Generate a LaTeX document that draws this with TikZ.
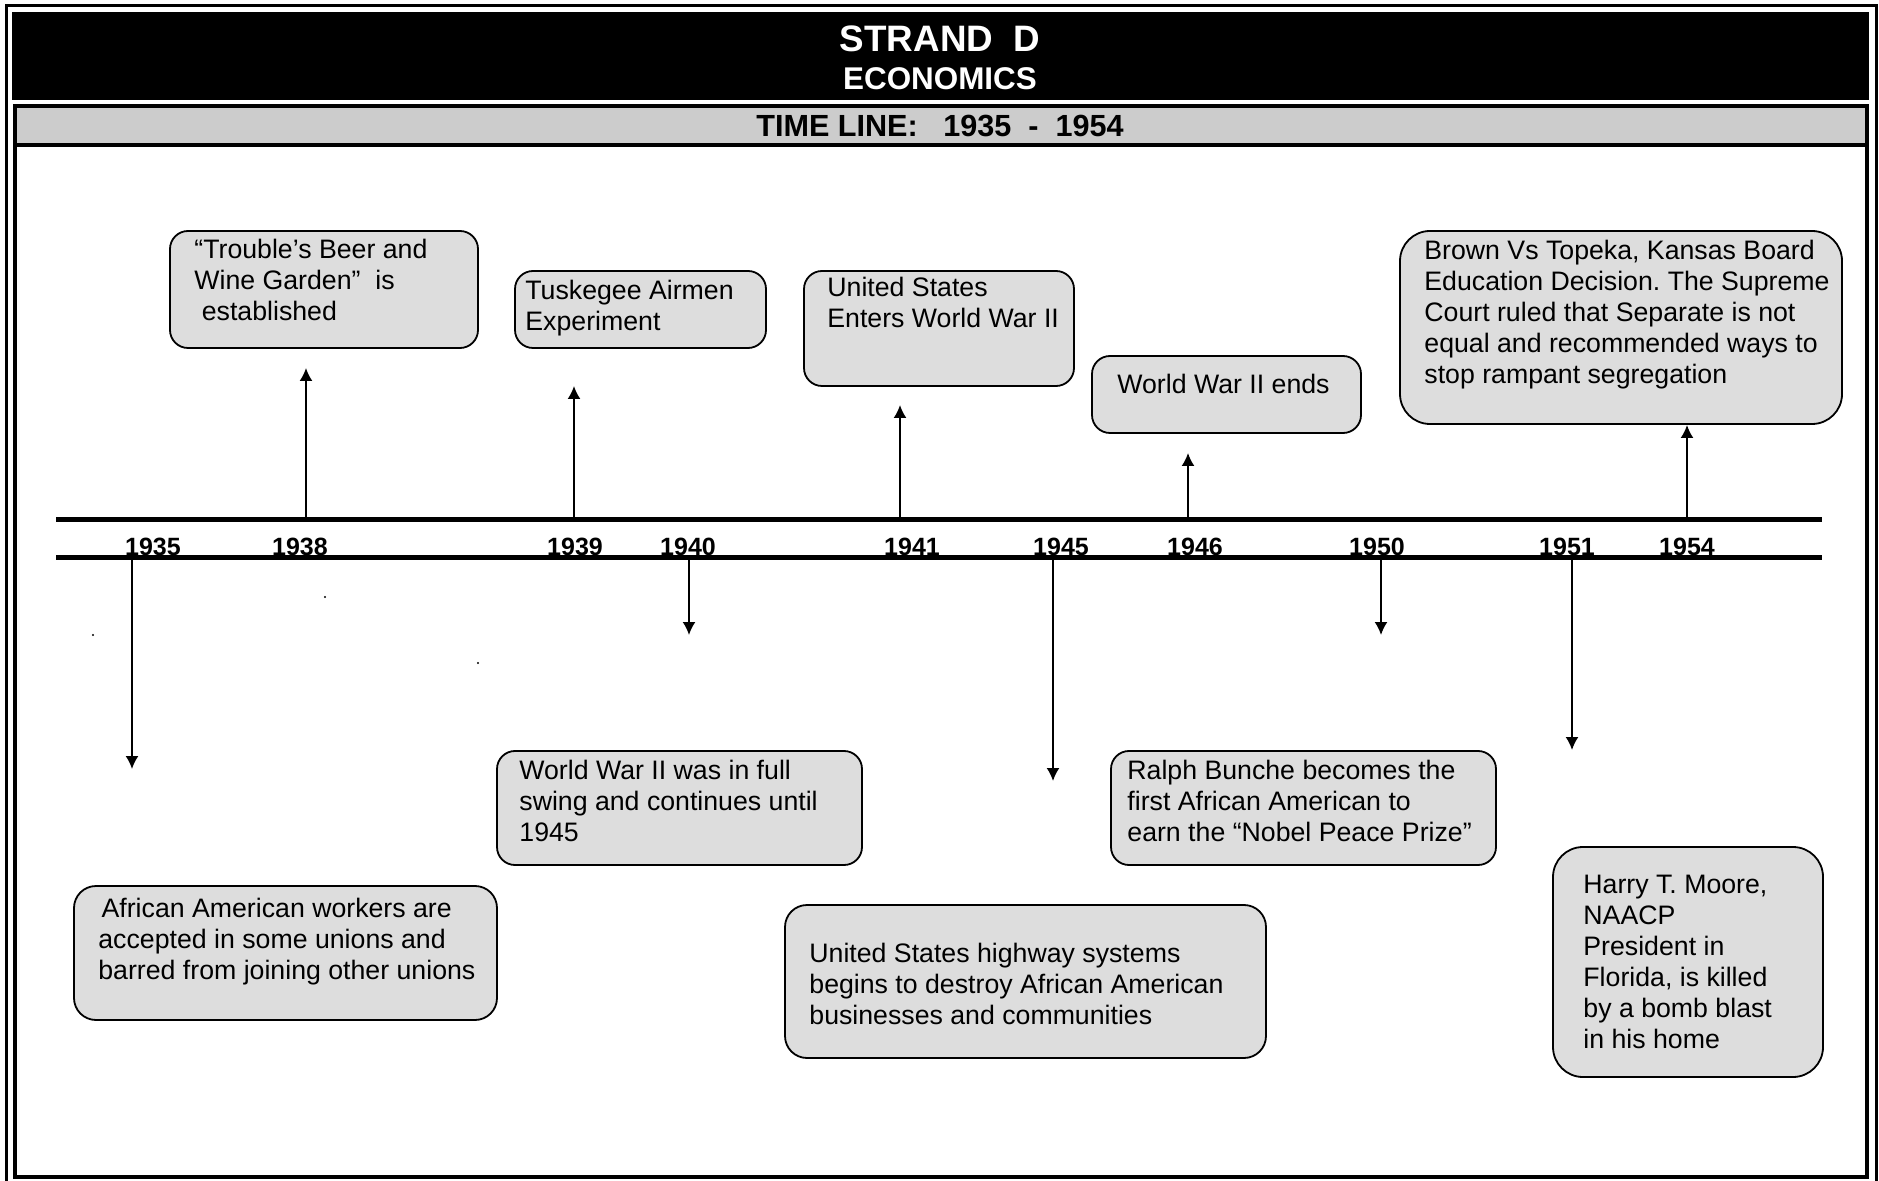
\documentclass[tikz,border=0pt]{standalone}
\usepackage{fontspec}
\setmainfont{Liberation Sans}
\usetikzlibrary{arrows.meta,positioning,fit}
\frenchspacing

\definecolor{boxgray}{HTML}{DDDDDD}
\definecolor{bargray}{HTML}{CCCCCC}

\tikzset{
  evbox/.style={draw, line width=0.9pt, fill=boxgray, rounded corners=9pt, inner sep=0pt},
  % anchored at the baseline of the last line
  evtext/.style={align=left, inner sep=0pt, anchor=base west, font=\fontsize{13.35}{15.5}\selectfont},
  yearlbl/.style={inner sep=0pt, anchor=base, font=\fontsize{12.5}{14}\selectfont\bfseries},
  evarrow/.style={line width=0.9pt, -{Latex[length=6.5pt,width=6.5pt]}}
}

\begin{document}
\begin{tikzpicture}[x=0.5pt,y=-0.5pt]
\useasboundingbox (0,0) rectangle (1879,1181);
% frames and heading
\draw[line width=1.5pt] (6.5,5.5) rectangle (1876,1195);
\fill (12,12) rectangle (1869,100);
\draw[line width=2pt] (14.5,106) rectangle (1867,1176.5);
\filldraw[fill=bargray, line width=2pt] (14.5,106) rectangle (1867,145);
\node[anchor=base, inner sep=0pt, text=white, font=\fontsize{18.4}{20}\selectfont\bfseries] (strand) at (940,52) {STRAND\ \ D};
\node[anchor=base, inner sep=0pt, text=white, font=\fontsize{15.7}{17}\selectfont\bfseries] (econ) at (940,90) {ECONOMICS};
\node[anchor=base, inner sep=0pt, font=\fontsize{15.3}{17}\selectfont\bfseries] (span) at (940,137) {TIME LINE:\ \ \ 1935\ \ -\ \ 1954};

% the time line
\draw[line width=2.5pt] (56,520) -- (1822,520);
\draw[line width=2.5pt] (56,558) -- (1822,558);
\foreach \yr/\xx in {1935/153,1938/300,1939/575,1940/688,1941/912,1945/1061,1946/1195,1950/1377,1951/1567,1954/1687}
  \node[yearlbl] (y\yr) at (\xx,556) {\yr};

% events above
\node[evbox, fit={(170,231) (478,348)}] (beer) {};
\node[evtext] (beertxt) at (194,321) {“Trouble’s Beer and\\Wine Garden”\ \ is\\\hspace*{0.28em}established};
\node[evbox, fit={(515,271) (766,348)}] (airmen) {};
\node[evtext] (airmentxt) at (525,331) {Tuskegee Airmen\\Experiment};
\node[evbox, fit={(804,271) (1074,386)}] (usenters) {};
\node[evtext] (usenterstxt) at (827,328) {United States\\Enters World War II};
\node[evbox, fit={(1092,356) (1361,433)}] (warends) {};
\node[evtext] (warendstxt) at (1117,394) {World War II ends};
\node[evbox, rounded corners=15pt, fit={(1400,231) (1842,424)}] (brown) {};
\node[evtext] (browntxt) at (1424,384) {Brown Vs Topeka, Kansas Board\\Education Decision. The Supreme\\Court ruled that Separate is not\\equal and recommended ways to\\stop rampant segregation};

% events below
\node[evbox, rounded corners=11pt, fit={(74,886) (497,1020)}] (unions) {};
\node[evtext] (unionstxt) at (98,979) {\hspace*{0.12em}African American workers are\\accepted in some unions and\\barred from joining other unions};
\node[evbox, fit={(497,751) (862,865)}] (fullswing) {};
\node[evtext] (fullswingtxt) at (519,841) {World War II was in full\\swing and continues until\\1945};
\node[evbox, rounded corners=11pt, fit={(785,905) (1266,1058)}] (highway) {};
\node[evtext] (highwaytxt) at (809,1024) {United States highway systems\\begins to destroy African American\\businesses and communities};
\node[evbox, fit={(1111,751) (1496,865)}] (bunche) {};
\node[evtext] (bunchetxt) at (1127,841) {Ralph Bunche becomes the\\first African American to\\earn the “Nobel Peace Prize”};
\node[evbox, rounded corners=15pt, fit={(1553,847) (1823,1077)}] (moore) {};
\node[evtext] (mooretxt) at (1583,1048) {Harry T. Moore,\\NAACP\\President in\\Florida, is killed\\by a bomb blast\\in his home};

% arrows
\foreach \xx/\yy [count=\i] in {306/368,574/386,900/405,1188/453,1687/425} {
  \coordinate (up\i) at (\xx,520);
  \coordinate (upend\i) at (\xx,\yy);
  \draw[evarrow] (up\i) -- (upend\i);
}
\foreach \xx/\yy [count=\i] in {132/769,689/635,1053/781,1381/635,1572/750} {
  \coordinate (dn\i) at (\xx,558);
  \coordinate (dnend\i) at (\xx,\yy);
  \draw[evarrow] (dn\i) -- (dnend\i);
}

% specks
\fill (93,635) circle (1.2);
\fill (325,597) circle (1.2);
\fill (478,663) circle (1.2);
\end{tikzpicture}
\end{document}
